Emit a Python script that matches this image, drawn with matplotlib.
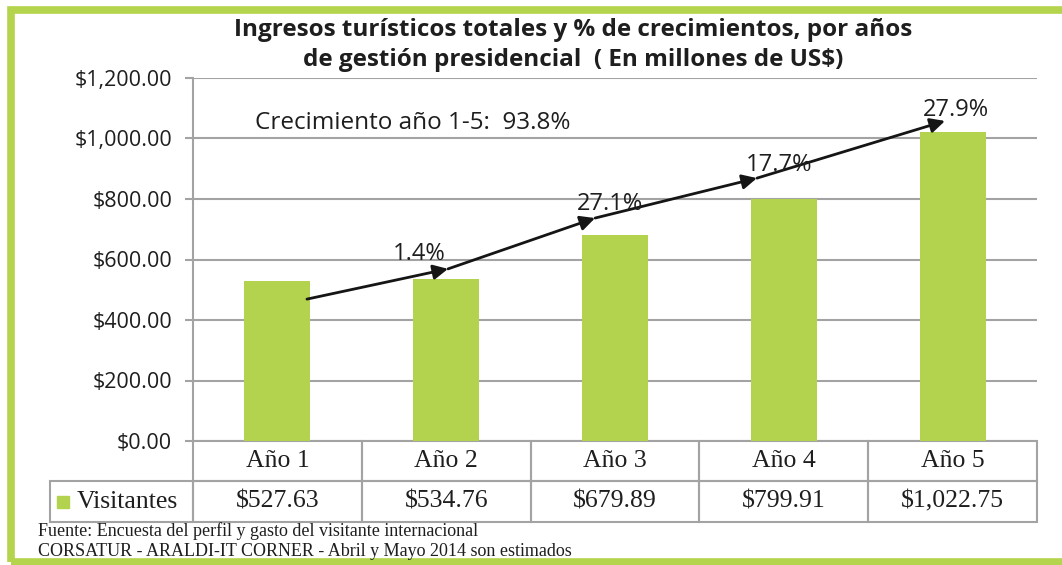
import matplotlib
matplotlib.use("Agg")
import matplotlib.pyplot as plt
from matplotlib.patches import Rectangle

# datos
anios = ["Año 1", "Año 2", "Año 3", "Año 4", "Año 5"]
visitantes = [527.63, 534.76, 679.89, 799.91, 1022.75]
crecimientos = ["1.4%", "27.1%", "17.7%", "27.9%"]
crecimiento_total = "93.8%"

verde = "#b3d34f"
gris = "#a3a3a3"
texto = "#1e1e1e"
sans = "Open Sans"
serif = "Liberation Serif"

fig = plt.figure(figsize=(10.62, 5.65), dpi=100)
ax = fig.add_axes([193 / 1062, 1 - 441 / 565, 844 / 1062, 363 / 565])

x = range(len(anios))
ax.bar(x, visitantes, width=0.39, color=verde, zorder=3)

ax.set_xlim(-0.5, 4.5)
ax.set_ylim(0, 1200)
ax.set_yticks(range(0, 1201, 200))
ax.set_yticklabels([f"${v:,.2f}" for v in range(0, 1201, 200)],
                   fontfamily=sans, fontsize=15.5, color=texto)
ax.set_xticks([])
ax.yaxis.grid(True, color=gris, lw=1.5, zorder=0)
ax.tick_params(axis="y", direction="out", length=6, width=1.5, color=gris, pad=9)
for s in ["top", "right", "bottom"]:
    ax.spines[s].set_visible(False)
ax.spines["left"].set_color(gris)
ax.spines["left"].set_linewidth(1.5)

# flechas de crecimiento
puntos = [(0.175, 469), (1.011, 569), (1.882, 737), (2.841, 869), (3.955, 1058)]
for a, b in zip(puntos[:-1], puntos[1:]):
    ax.annotate("", xy=b, xytext=a,
                arrowprops=dict(arrowstyle="-|>", color="#151515", lw=2,
                                mutation_scale=22, shrinkA=0, shrinkB=0),
                zorder=5)

pos_etq = [(0.839, 618), (1.97, 783), (2.97, 912), (4.02, 1094)]
for (px, py), lab in zip(pos_etq, crecimientos):
    ax.text(px, py, lab, ha="center", va="center", fontfamily=sans,
            fontsize=17, color=texto, zorder=6)

ax.text(-0.133, 1051, "Crecimiento año 1-5:  " + crecimiento_total, ha="left",
        va="center", fontfamily=sans, fontsize=17.5, color=texto)

# tabla de datos (x en datos, y en fraccion del eje)
tr = ax.get_xaxis_transform()
h1, h2 = 40 / 363, 41 / 363
celda = dict(transform=tr, fill=False, ec=gris, lw=1.5, clip_on=False)
txt = dict(transform=tr, ha="center", va="center", fontfamily=serif,
           fontsize=18.5, color=texto, clip_on=False)
for i, (anio, v) in enumerate(zip(anios, visitantes)):
    ax.add_patch(Rectangle((i - 0.5, -h1), 1, h1, **celda))
    ax.add_patch(Rectangle((i - 0.5, -h1 - h2), 1, h2, **celda))
    ax.text(i, -h1 / 2, anio, **txt)
    ax.text(i, -h1 - h2 / 2, f"${v:,.2f}", **txt)

ancho_lbl = 143 / 168.8
ax.add_patch(Rectangle((-0.5 - ancho_lbl, -h1 - h2), ancho_lbl, h2, **celda))
ax.plot([-0.5 - 130 / 168.8], [-h1 - h2 / 2], marker="s", ms=8.5, color=verde,
        transform=tr, clip_on=False)
ax.text(-0.5 - 116 / 168.8, -h1 - h2 / 2, "Visitantes",
        **{**txt, "ha": "left"})

# titulo
fig.text(573 / 1062, 1 - 45 / 565,
         "Ingresos turísticos totales y % de crecimientos, por años\n"
         "de gestión presidencial  ( En millones de US$)",
         ha="center", va="center", fontfamily=sans, fontweight="bold",
         fontsize=17.5, color=texto, linespacing=1.3)

# fuente
fig.text(38 / 1062, 1 - 531 / 565,
         "Fuente: Encuesta del perfil y gasto del visitante internacional",
         ha="left", va="center", fontfamily=serif, fontsize=13, color=texto)
fig.text(38 / 1062, 1 - 551 / 565,
         "CORSATUR - ARALDI-IT CORNER - Abril y Mayo 2014 son estimados",
         ha="left", va="center", fontfamily=serif, fontsize=13, color=texto)

# marco verde
fig.add_artist(Rectangle((11 / 1062, 3.5 / 565), 1.2, 1 - 13 / 565,
                         transform=fig.transFigure, fill=False,
                         edgecolor="#b5d44e", lw=5.5, clip_on=False))

fig.savefig("out.png", dpi=100)
